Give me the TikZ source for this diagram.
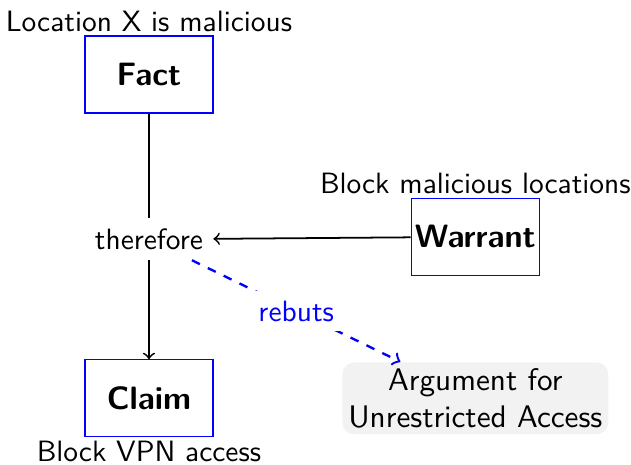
\documentclass[tikz,border=0pt]{standalone}
\renewcommand{\familydefault}{\sfdefault}
\begin{document}
\begin{tikzpicture}[
  part/.style={draw=blue,inner sep=1.2pt,minimum width=1.53cm,minimum height=0.92cm,font=\fontsize{11}{13}\selectfont\bfseries},
  conn/.style={semithick,->},
  note/.style={inner sep=1pt}
]
\pgfmathsetmacro{\kx}{3.9}
\pgfmathsetmacro{\ky}{1.9}
\useasboundingbox (-1.78,-2.69) rectangle (5.76,2.86);
%toulmin parts
\node[part,label={[note]above:Location X is malicious}] (fact) at (0,1.97) {Fact};
\node (therefore) at (0,0) {therefore};
\node[part,label={[note]below:Block VPN access}] (claim) at (0,-\ky) {Claim};
\node[part,label={[note]above:Block malicious locations}] (warrant) at (\kx,0.03) {Warrant};
\node[fill=gray!10,rounded corners,align=center,inner sep=2pt,font=\fontsize{10.6}{12.7}\selectfont] (rebuttal) at (\kx,-\ky) {Argument for\\Unrestricted Access};
%links
\draw[semithick] (fact)--(therefore);
\draw[conn] (therefore)--(claim);
\draw[conn] (warrant)--(therefore);
\draw[->,thick,dashed,blue] (therefore)--node[fill=white,text=blue]{rebuts}(rebuttal);
\end{tikzpicture}
\end{document}
